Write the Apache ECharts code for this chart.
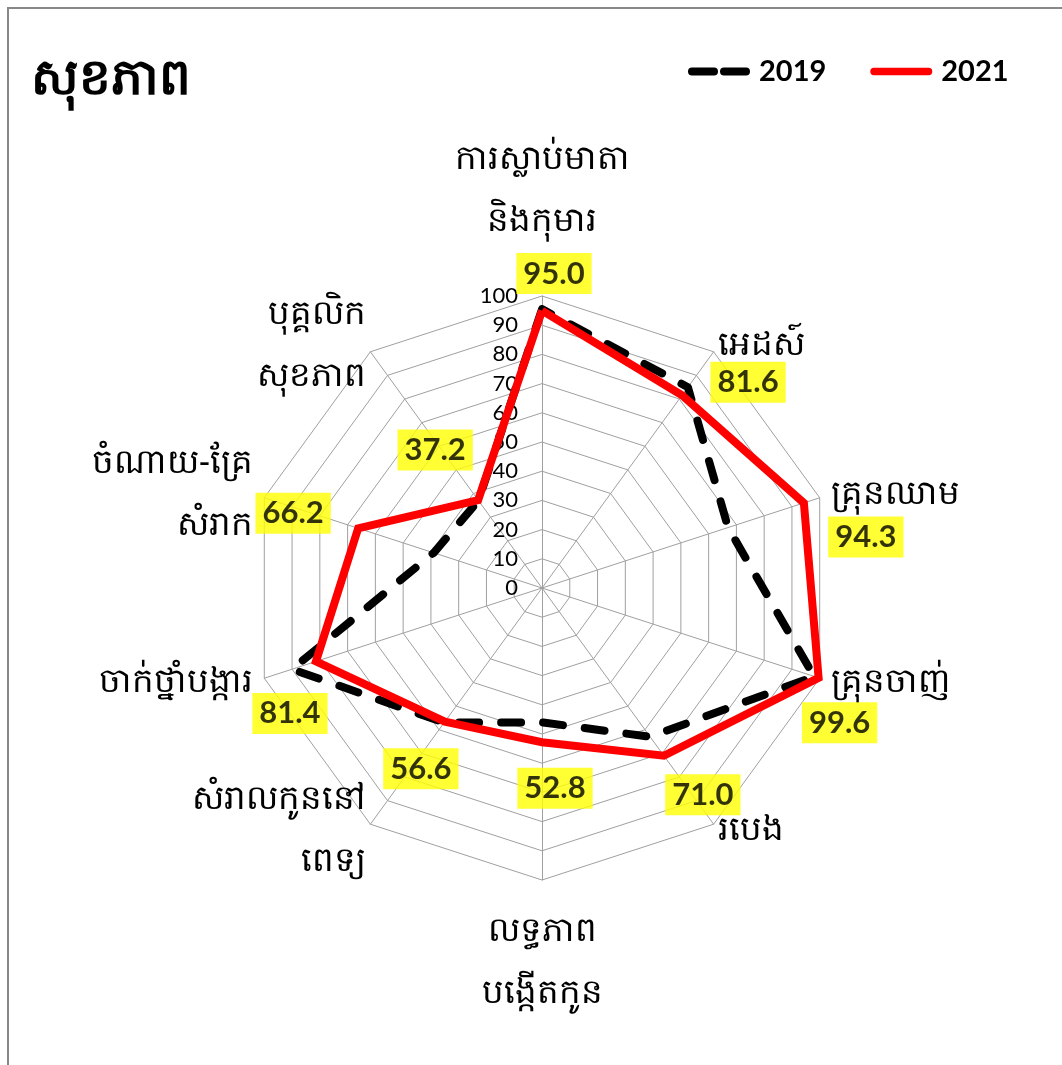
<!DOCTYPE html>
<html>
<head>
<meta charset="utf-8">
<script src="https://cdn.jsdelivr.net/npm/echarts@6/dist/echarts.min.js"></script>
<style>
html, body { margin: 0; padding: 0; background: #fff; }
#main { width: 1062px; height: 1065px; }
</style>
</head>
<body>
<div id="main"></div>
<script>
// indicators, read clockwise starting at the top
var names = ['ការស្លាប់មាតា\nនិងកុមារ', 'អេដស៍', 'គ្រុនឈាម', 'គ្រុនចាញ់', 'របេង',
	'លទ្ធភាព\nបង្កើតកូន', 'សំរាលកូននៅ\nពេទ្យ', 'ចាក់ថ្នាំបង្ការ', 'ចំណាយ-គ្រែ\nសំរាក', 'បុគ្គលិក\nសុខភាព'];
var val2019 = [95.5, 85, 67, 98, 63, 46, 57, 90, 39, 37];
var val2021 = [95.0, 81.6, 94.3, 99.6, 71.0, 52.8, 56.6, 81.4, 66.2, 37.2];
var maxVal = 100;
var tickStep = 10;

// where each yellow value box sits relative to its point (px)
var labelOffsets = [[12, -37], [66, -13], [62, 34], [21, 45], [39, 39], [13, 46], [-24, 47], [-26, 52], [-65, -15], [-43, -50]];
// gap between the outer ring and each indicator name
var nameGaps = [44, 8, 12, 12, 8, 20, 8, 12, 12, 8];

var myChart = echarts.init(document.getElementById('main'));

// echarts radar runs counter-clockwise, so keep the top one first and reverse the rest
var order = [0];
for (var i = names.length - 1; i > 0; i--) order.push(i);
function reorder(arr) { return order.map(function (k) { return arr[k]; }); }

var indicator = order.map(function (k) {
	return { name: names[k], max: maxVal, min: 0, nameGap: nameGaps[k] };
});

var center = [542, 588];
var radius = 292;

option = {
	backgroundColor: '#fff',
	animation: false,
	title: {
		text: 'សុខភាព',
		left: 26,
		top: 50,
		textStyle: { fontSize: 50, fontWeight: 'bold', color: '#000', fontFamily: 'Noto Sans' }
	},
	legend: {
		data: [
			{ name: '2019', icon: 'path://M4,0 L26,0 A4,4 0 0 1 26,8 L4,8 A4,4 0 0 1 4,0 Z M36,0 L58,0 A4,4 0 0 1 58,8 L36,8 A4,4 0 0 1 36,0 Z', itemStyle: { color: '#000' } },
			{ name: '2021', icon: 'path://M4,0 L64,0 A4,4 0 0 1 64,8 L4,8 A4,4 0 0 1 4,0 Z', itemStyle: { color: '#ff0000' } }
		],
		left: 683,
		top: 52,
		itemWidth: 62,
		itemHeight: 8,
		itemGap: 44,
		textStyle: { fontSize: 29, fontWeight: 'bold', color: '#000', fontFamily: 'Lato', padding: [0, 0, 0, 4] }
	},
	radar: {
		center: center,
		radius: radius,
		startAngle: 90,
		shape: 'polygon',
		splitNumber: maxVal / tickStep,
		indicator: indicator,
		axisName: {
			color: '#000',
			fontSize: 34,
			lineHeight: 62,
			fontFamily: 'Noto Sans'
		},
		axisLine: { lineStyle: { color: '#a0a0a0', width: 1 } },
		splitLine: { lineStyle: { color: '#a0a0a0', width: 1 } },
		splitArea: { show: false },
		axisTick: { show: false },
		axisLabel: { show: false }
	},
	// a bare value axis lying on the top spoke carries the 0..100 numbers
	grid: {
		left: center[0],
		top: center[1] - radius,
		width: 1,
		height: radius
	},
	xAxis: { type: 'value', show: false },
	yAxis: {
		type: 'value',
		min: 0,
		max: maxVal,
		interval: tickStep,
		axisLine: { show: false },
		axisTick: { show: false },
		splitLine: { show: false },
		axisLabel: { color: '#000', fontSize: 22, fontFamily: 'Lato', margin: 24 }
	},
	polar: {
		center: center,
		radius: radius
	},
	angleAxis: {
		type: 'category',
		data: names,
		boundaryGap: true,
		startAngle: 90 + 180 / names.length,
		clockwise: true,
		show: false
	},
	radiusAxis: {
		min: 0,
		max: maxVal,
		show: false
	},
	series: [
		{
			name: '2019',
			type: 'radar',
			symbol: 'none',
			z: 3,
			lineStyle: { color: '#000', width: 8, type: [20, 22], cap: 'round' },
			itemStyle: { color: '#000' },
			data: [{ name: '2019', value: reorder(val2019) }]
		},
		{
			name: '2021',
			type: 'radar',
			symbol: 'none',
			z: 4,
			lineStyle: { color: '#ff0000', width: 8, join: 'miter' },
			itemStyle: { color: '#ff0000' },
			data: [{ name: '2021', value: reorder(val2021) }]
		},
		{
			// value boxes for 2021, placed on the same scale via polar coords
			name: 'labels',
			type: 'scatter',
			coordinateSystem: 'polar',
			symbolSize: 1,
			z: 10,
			silent: true,
			itemStyle: { color: 'transparent' },
			data: val2021.map(function (v, k) {
				return {
					value: [v, k],
					label: {
						show: true,
						position: 'inside',
						offset: labelOffsets[k],
						formatter: function (p) { return p.value[0].toFixed(1); },
						color: '#000',
						fontSize: 31,
						fontWeight: 'bold',
						fontFamily: 'Lato',
						backgroundColor: '#ffff00',
						padding: [6, 7, 4, 7]
					}
				};
			})
		}
	],
	graphic: [
		{
			type: 'rect',
			shape: { x: 8, y: 8, width: 1100, height: 1100 },
			style: { fill: 'none', stroke: '#888', lineWidth: 2 },
			silent: true
		}
	]
};

myChart.setOption(option);
</script>
</body>
</html>
